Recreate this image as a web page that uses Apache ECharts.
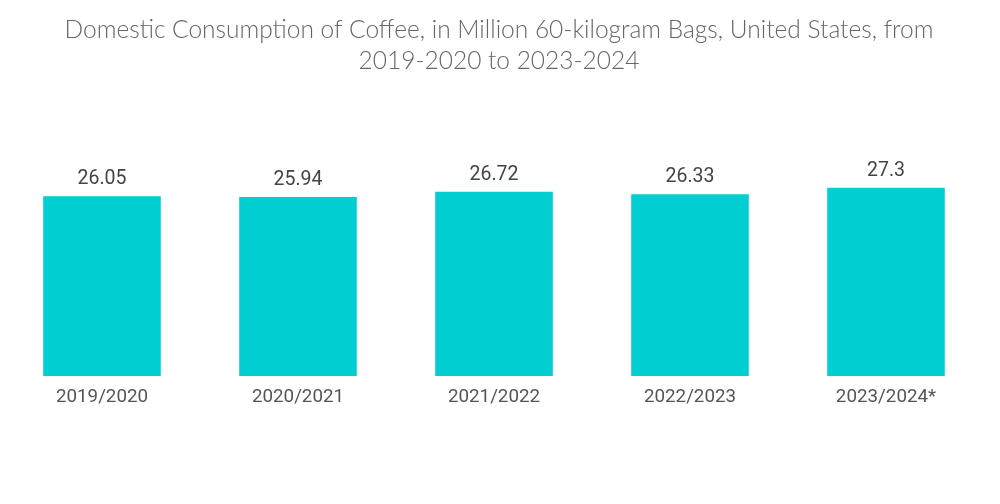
<!DOCTYPE html>
<html><head><meta charset="utf-8">
<script src="https://cdn.jsdelivr.net/npm/echarts@6/dist/echarts.min.js"></script>
<style>html,body{margin:0;padding:0;background:#fff}#c{width:1000px;height:504px}</style>
</head><body><div id="c"></div>
<script>
const categories = ['2019/2020','2020/2021','2021/2022','2022/2023','2023/2024*'];
const values = [26.05, 25.94, 26.72, 26.33, 27.3];
const chart = echarts.init(document.getElementById('c'));
chart.setOption({
  animation:false,
  title:{text:'Domestic Consumption of Coffee, in Million 60-kilogram Bags, United States, from\n2019-2020 to 2023-2024',
    left:494, top:10, textAlign:'center',
    textStyle:{fontFamily:'Lato', fontWeight:300, fontSize:24.5, color:'#666', lineHeight:31}},
  grid:{left:4, right:16, top:169, bottom:128, containLabel:false},
  xAxis:{type:'category', data:categories, axisLine:{show:false}, axisTick:{show:false},
    axisLabel:{fontFamily:'Roboto', fontSize:18.8, color:'#555', margin:12}},
  yAxis:{type:'value', min:0, max:30, show:false, splitLine:{show:false}},
  series:[{type:'bar', data:values, barWidth:'60%', itemStyle:{color:'#00CED1'},
    label:{show:true, position:'top', fontFamily:'Roboto', fontSize:19.5, color:'#444', distance:7}}]
});
</script></body></html>
